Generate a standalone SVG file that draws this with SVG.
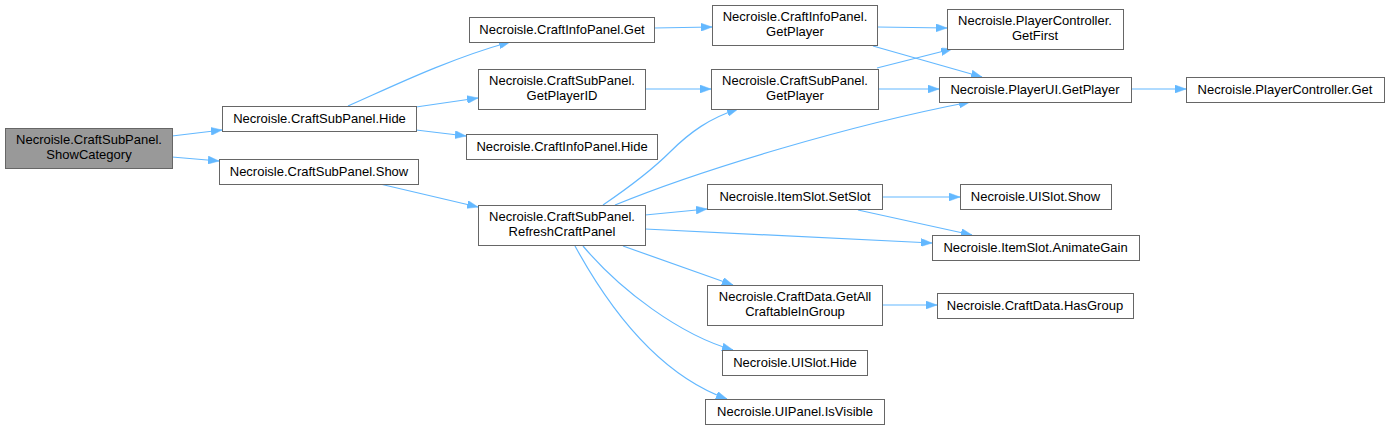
<svg xmlns="http://www.w3.org/2000/svg" width="1389" height="430" viewBox="0 0 1389 430">
<defs>
<style>
.n rect{fill:#ffffff;stroke:#666666;stroke-width:1}
.n.root rect{fill:#999999}
.n text{font-family:"Liberation Sans",Arial,sans-serif;font-size:13px;fill:#000000;text-anchor:middle}
.e path{fill:none;stroke:#63b8ff;stroke-width:1.2;marker-end:url(#ah)}
</style>
<marker id="ah" markerUnits="userSpaceOnUse" markerWidth="11" markerHeight="8" refX="11" refY="4" orient="auto">
<path d="M0,0 L11,4 L0,8 z" fill="#63b8ff" stroke="#63b8ff" stroke-width="0.5"/>
</marker>
</defs>
<rect width="1389" height="430" fill="#ffffff"/>
<g id="edges" class="e">
<path d="M172,136 L222,130"/>
<path d="M172,157 L219,161"/>
<path d="M348,106 C385,90 445,60 510,42"/>
<path d="M416,107 L478,98"/>
<path d="M416,130 L466,136"/>
<path d="M380,184 L478,207"/>
<path d="M654,28 L712,27"/>
<path d="M645,89 L711,89"/>
<path d="M603,205 C625,190 650,172 670,152 C690,132 710,118 738,109"/>
<path d="M615,205 C700,170 850,125 970,102"/>
<path d="M645,215 L707,209"/>
<path d="M645,229 L932,243"/>
<path d="M623,246 L733,285"/>
<path d="M583,246 C620,290 680,335 733,350"/>
<path d="M575,246 C610,310 660,375 727,399"/>
<path d="M877,27 L947,28"/>
<path d="M873,46 L982,77"/>
<path d="M877,68 L952,49"/>
<path d="M878,89 L939,89"/>
<path d="M1131,89 L1186,89"/>
<path d="M882,197 L960,197"/>
<path d="M858,210 L972,235"/>
<path d="M882,305 L937,305"/>
</g>
<g id="n0" class="n root"><rect x="5.5" y="128.5" width="167" height="40"/><text x="89" y="144">Necroisle.CraftSubPanel.</text><text x="89" y="159">ShowCategory</text></g>
<g id="n1" class="n"><rect x="222.5" y="106.5" width="194" height="25"/><text x="319.5" y="123">Necroisle.CraftSubPanel.Hide</text></g>
<g id="n2" class="n"><rect x="219.5" y="159.5" width="199" height="25"/><text x="319" y="176">Necroisle.CraftSubPanel.Show</text></g>
<g id="n3" class="n"><rect x="469.5" y="17.5" width="185" height="25"/><text x="562" y="34">Necroisle.CraftInfoPanel.Get</text></g>
<g id="n4" class="n"><rect x="478.5" y="69.5" width="167" height="40"/><text x="562" y="85">Necroisle.CraftSubPanel.</text><text x="562" y="100">GetPlayerID</text></g>
<g id="n5" class="n"><rect x="466.5" y="134.5" width="191" height="25"/><text x="562" y="151">Necroisle.CraftInfoPanel.Hide</text></g>
<g id="n6" class="n"><rect x="478.5" y="205.5" width="167" height="40"/><text x="562" y="221">Necroisle.CraftSubPanel.</text><text x="562" y="236">RefreshCraftPanel</text></g>
<g id="n7" class="n"><rect x="712.5" y="5.5" width="165" height="40"/><text x="795" y="21">Necroisle.CraftInfoPanel.</text><text x="795" y="36">GetPlayer</text></g>
<g id="n8" class="n"><rect x="711.5" y="69.5" width="167" height="40"/><text x="795" y="85">Necroisle.CraftSubPanel.</text><text x="795" y="100">GetPlayer</text></g>
<g id="n9" class="n"><rect x="707.5" y="184.5" width="175" height="25"/><text x="795" y="201">Necroisle.ItemSlot.SetSlot</text></g>
<g id="n10" class="n"><rect x="707.5" y="285.5" width="175" height="40"/><text x="795" y="301">Necroisle.CraftData.GetAll</text><text x="795" y="316">CraftableInGroup</text></g>
<g id="n11" class="n"><rect x="722.5" y="350.5" width="145" height="25"/><text x="795" y="367">Necroisle.UISlot.Hide</text></g>
<g id="n12" class="n"><rect x="705.5" y="399.5" width="179" height="25"/><text x="795" y="416">Necroisle.UIPanel.IsVisible</text></g>
<g id="n13" class="n"><rect x="947.5" y="9.5" width="176" height="40"/><text x="1035" y="25">Necroisle.PlayerController.</text><text x="1035" y="40">GetFirst</text></g>
<g id="n14" class="n"><rect x="939.5" y="77.5" width="192" height="25"/><text x="1035" y="94">Necroisle.PlayerUI.GetPlayer</text></g>
<g id="n15" class="n"><rect x="960.5" y="184.5" width="151" height="25"/><text x="1035.5" y="201">Necroisle.UISlot.Show</text></g>
<g id="n16" class="n"><rect x="932.5" y="235.5" width="207" height="25"/><text x="1035.5" y="252">Necroisle.ItemSlot.AnimateGain</text></g>
<g id="n17" class="n"><rect x="937.5" y="293.5" width="196" height="25"/><text x="1035" y="310">Necroisle.CraftData.HasGroup</text></g>
<g id="n18" class="n"><rect x="1186.5" y="77.5" width="198" height="25"/><text x="1285" y="94">Necroisle.PlayerController.Get</text></g>
</svg>
